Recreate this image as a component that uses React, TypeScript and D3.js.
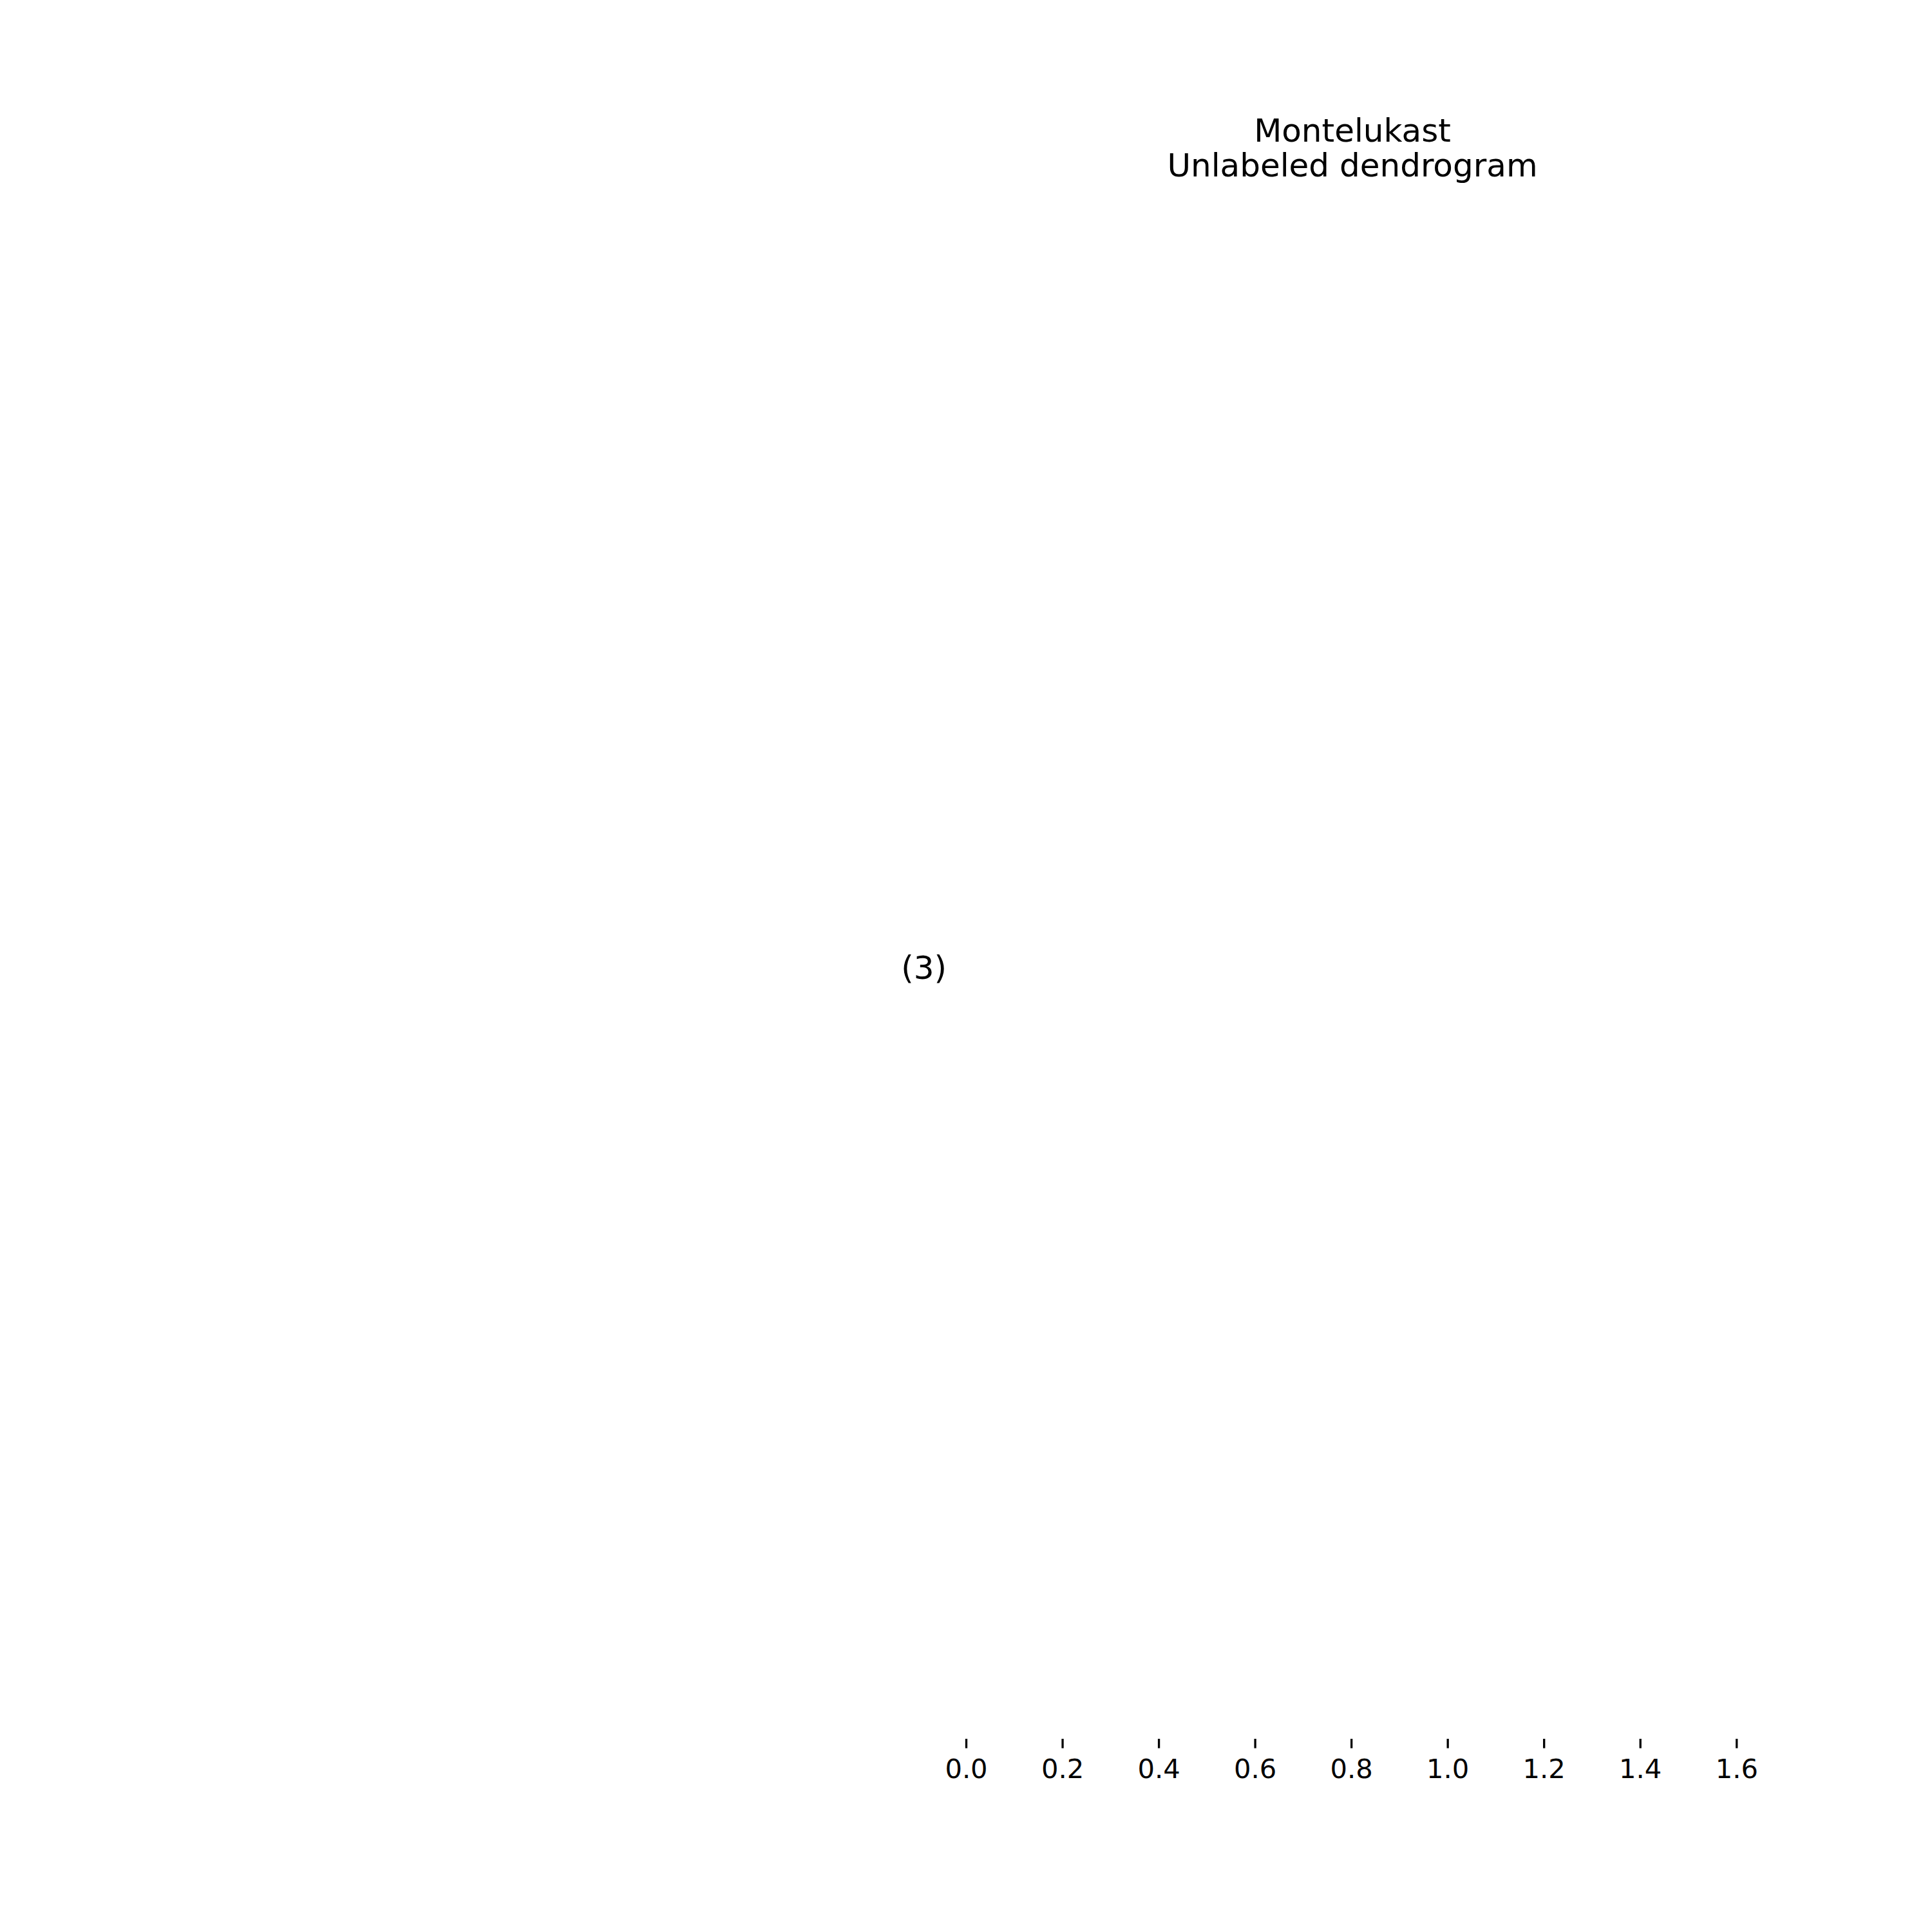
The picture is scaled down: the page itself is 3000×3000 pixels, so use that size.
import { useEffect, useRef } from 'react';
import * as d3 from 'd3';

const titleLines = ['Montelukast', 'Unlabeled dendrogram'];
const leafLabels = ['(3)'];
const xTicks = [0, 0.2, 0.4, 0.6, 0.8, 1.0, 1.2, 1.4, 1.6];
const xDomain = [0, 1.605];

const W = 3000;
const H = 3000;
const margin = { top: 300, right: 300, bottom: 300, left: 1500 };
const font = '"DejaVu Sans", sans-serif';

export default function App() {
  const svgRef = useRef<SVGSVGElement>(null);

  useEffect(() => {
    if (!svgRef.current) return;
    const svg = d3.select(svgRef.current);
    svg.selectAll('*').remove();

    const innerW = W - margin.left - margin.right;
    const innerH = H - margin.top - margin.bottom;

    const x = d3.scaleLinear().domain(xDomain).range([0, innerW]);
    const y = d3.scaleBand().domain(leafLabels).range([innerH, 0]);

    const g = svg.append('g').attr('transform', `translate(${margin.left},${margin.top})`);

    // x axis (distance)
    const xAxis = g
      .append('g')
      .attr('transform', `translate(0,${innerH})`)
      .call(
        d3
          .axisBottom(x)
          .tickValues(xTicks)
          .tickFormat(d3.format('.1f'))
          .tickSize(14.6)
          .tickPadding(16.8)
      );
    xAxis.select('.domain').remove();
    xAxis.selectAll('line').attr('stroke', '#000').attr('stroke-width', 3.3);
    xAxis
      .selectAll('text')
      .attr('fill', '#000')
      .attr('font-family', font)
      .attr('font-size', 41.67);

    // leaf labels
    const yAxis = g.append('g').call(d3.axisLeft(y).tickSize(0).tickPadding(30));
    yAxis.select('.domain').remove();
    yAxis
      .selectAll('text')
      .attr('fill', '#000')
      .attr('dy', '0.4em')
      .attr('font-family', font)
      .attr('font-size', 50);

    // title
    svg
      .append('g')
      .selectAll('text')
      .data(titleLines)
      .enter()
      .append('text')
      .attr('x', margin.left + innerW / 2)
      .attr('y', (_d, i) => 220 + i * 54)
      .attr('text-anchor', 'middle')
      .attr('font-family', font)
      .attr('font-size', 50)
      .attr('fill', '#000')
      .text(d => d);
  }, []);

  return (
    <div style={{ position: 'absolute', left: 0, top: 0 }}>
      <svg ref={svgRef} width={W} height={H} style={{ display: 'block', background: '#fff' }} />
    </div>
  );
}
